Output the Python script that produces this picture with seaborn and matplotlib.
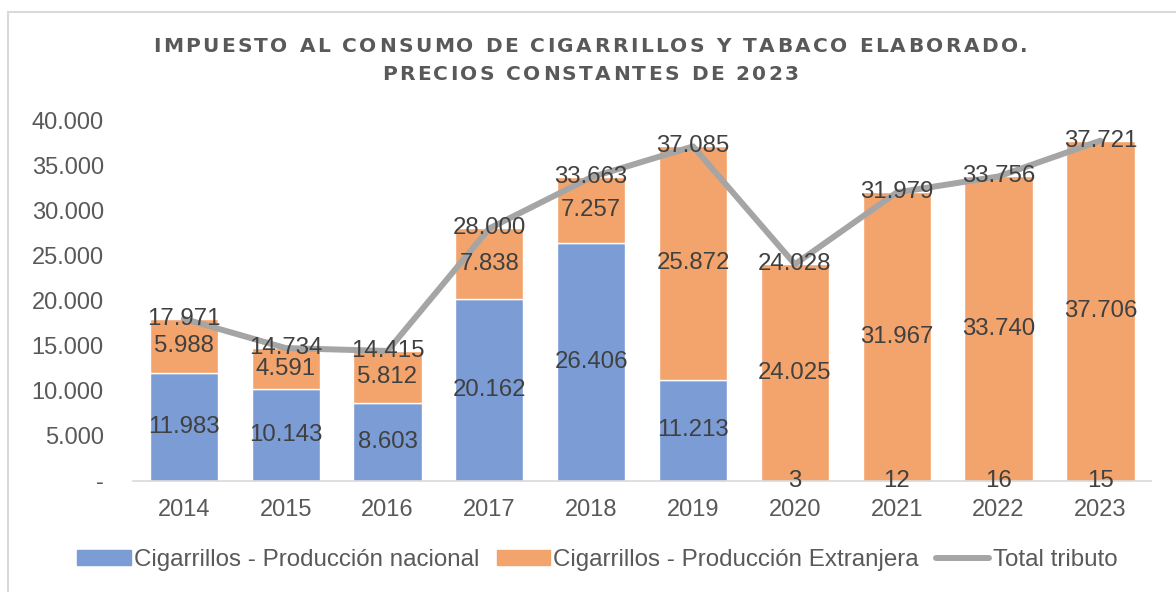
import pandas as pd
import matplotlib.pyplot as plt
import matplotlib.patches as mpatches
from matplotlib.lines import Line2D
from matplotlib.font_manager import FontProperties, findfont, get_font
import seaborn as sns

years = ["2014", "2015", "2016", "2017", "2018", "2019", "2020", "2021", "2022", "2023"]
nacional = [11983, 10143, 8603, 20162, 26406, 11213, 3, 12, 16, 15]
extranjera = [5988, 4591, 5812, 7838, 7257, 25872, 24025, 31967, 33740, 37706]
total = [17971, 14734, 14415, 28000, 33663, 37085, 24028, 31979, 33756, 37721]
title_lines = ["IMPUESTO AL CONSUMO DE CIGARRILLOS Y TABACO ELABORADO.",
               "PRECIOS CONSTANTES DE 2023"]

BLUE = "#7B9CD5"
ORANGE = "#F3A46C"
GRAY = "#A5A5A5"
TXT = "#404040"
TITLE_FONT = "DejaVu Sans"
TITLE_SIZE = 14.5


def fmt(v):
    return f"{v:,}".replace(",", ".")


def advances(line, size, dpi=100):
    # glyph advance widths in pixels
    font = get_font(findfont(FontProperties(family=TITLE_FONT, weight="bold")))
    font.set_size(size, dpi)
    return [font.load_char(ord(ch)).linearHoriAdvance / 65536 for ch in line]


def spaced_text(fig, line, xc, y, gap, **kw):
    # letter by letter to get the wide tracking of the original title
    W = fig.get_figwidth() * fig.dpi
    adv = advances(line, kw["fontsize"], fig.dpi)
    total_w = sum(adv) + gap * (len(line) - 1)
    x = xc * W - total_w / 2
    for ch, a in zip(line, adv):
        if ch != " ":
            fig.text(x / W, y, ch, ha="left", va="center", **kw)
        x += a + gap


df = pd.DataFrame({"year": years, "nacional": nacional,
                   "extranjera": extranjera, "total": total})

sns.set_style("white")
plt.rcParams["font.family"] = ["Liberation Sans", "DejaVu Sans"]

fig = plt.figure(figsize=(11.76, 5.92), dpi=100)
ax = fig.add_axes([0.113, 0.1875, 0.866, 0.6096])

sns.barplot(data=df, x="year", y="nacional", color=BLUE, width=0.67,
            saturation=1, ax=ax)
sns.barplot(data=df, x="year", y="extranjera", bottom=df["nacional"],
            color=ORANGE, width=0.67, saturation=1, ax=ax)
sns.lineplot(data=df, x="year", y="total", color=GRAY, linewidth=4.3,
             ax=ax, sort=False)

for i, (n, e, t) in enumerate(zip(nacional, extranjera, total)):
    ax.text(i, n / 2, fmt(n), ha="center", va="center", fontsize=17.3, color=TXT)
    ax.text(i, n + e / 2, fmt(e), ha="center", va="center", fontsize=17.3, color=TXT)
    ax.text(i, t, fmt(t), ha="center", va="center", fontsize=17.3, color=TXT)

ax.set_ylim(0, 40000)
ax.set_xlim(-0.5, len(years) - 0.5)
ticks = list(range(0, 40001, 5000))
ax.set_yticks(ticks)
ax.set_yticklabels(["-"] + [fmt(v) for v in ticks[1:]])
ax.tick_params(axis="both", labelsize=17, colors="#595959", length=0)
ax.tick_params(axis="y", pad=21)
ax.tick_params(axis="x", pad=13)
ax.set_xlabel("")
ax.set_ylabel("")
for s in ["top", "right", "left"]:
    ax.spines[s].set_visible(False)
ax.spines["bottom"].set_color("#D9D9D9")
ax.spines["bottom"].set_linewidth(1.2)

title_kw = dict(fontsize=TITLE_SIZE, fontweight="bold", color="#595959", family=TITLE_FONT)
gap = (875 - sum(advances(title_lines[0], TITLE_SIZE))) / (len(title_lines[0]) - 1)
spaced_text(fig, title_lines[0], 0.502, 1 - 47 / 592, gap, **title_kw)
spaced_text(fig, title_lines[1], 0.502, 1 - 74 / 592, gap, **title_kw)

handles = [mpatches.Patch(color=BLUE, label="Cigarrillos - Producción nacional"),
           mpatches.Patch(color=ORANGE, label="Cigarrillos - Producción Extranjera"),
           Line2D([0], [0], color=GRAY, linewidth=4.3, label="Total tributo")]
fig.legend(handles=handles, loc="center", bbox_to_anchor=(0.508, 0.054), ncol=3,
           frameon=False, fontsize=17.4, handlelength=2.2, handleheight=0.55,
           columnspacing=0.7, handletextpad=0.15, labelcolor="#595959")

fig.patches.append(mpatches.Rectangle((8 / 1176, -0.1), 1.2, 1.1 - 12 / 592,
                                      transform=fig.transFigure, fill=False,
                                      edgecolor="#D9D9D9", linewidth=1.5))

fig.savefig("out.png", dpi=100)
